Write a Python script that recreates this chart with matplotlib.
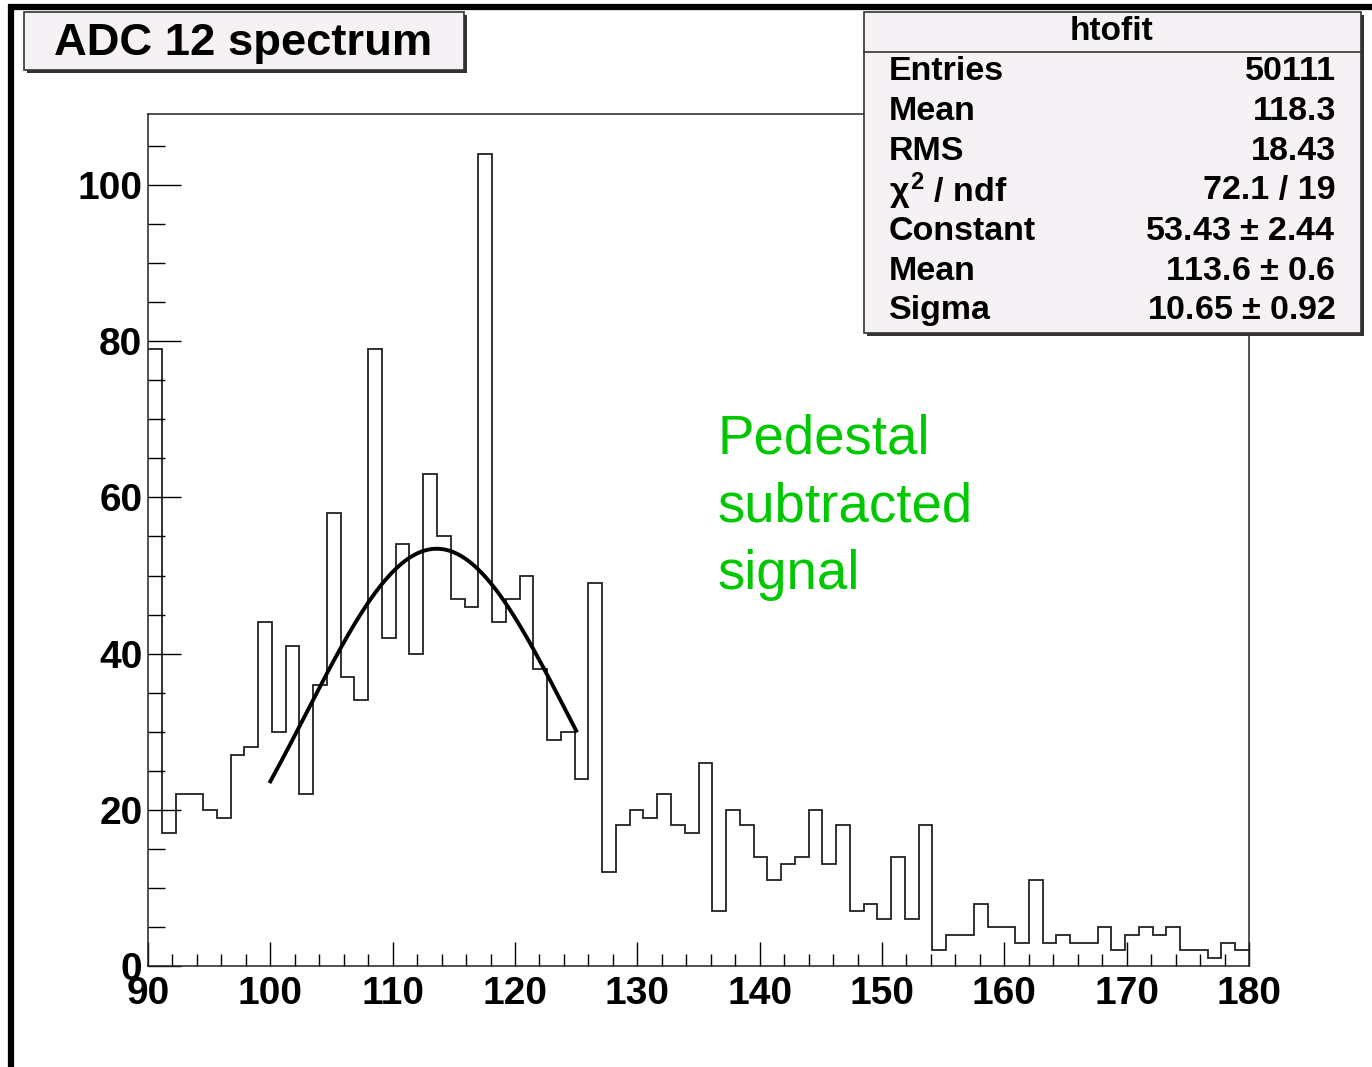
import numpy as np
import matplotlib.pyplot as plt
from matplotlib.patches import Rectangle
from matplotlib.lines import Line2D

# histogram contents, 80 bins from 90 to 180
x_min, x_max, n_bins = 90, 180, 80
counts = [79, 17, 22, 22, 20, 19, 27, 28, 44, 30,
          41, 22, 36, 58, 37, 34, 79, 42, 54, 40,
          63, 55, 47, 46, 104, 44, 47, 50, 38, 29,
          30, 24, 49, 12, 18, 20, 19, 22, 18, 17,
          26, 7, 20, 18, 14, 11, 13, 14, 20, 13,
          18, 7, 8, 6, 14, 6, 18, 2, 4, 4,
          8, 5, 5, 3, 11, 3, 4, 3, 3, 5,
          2, 4, 5, 4, 5, 2, 2, 1, 3, 2]

# gaussian fit parameters and fit range
fit_const, fit_mean, fit_sigma = 53.43, 113.6, 10.65
fit_lo, fit_hi = 100, 125

stat_labels = ['Entries', 'Mean', 'RMS', r'$\chi^{2}$ / ndf', 'Constant', 'Mean', 'Sigma']
stat_values = ['50111', '118.3', '18.43', '72.1 / 19',
               '53.43 $\\pm$ 2.44', '113.6 $\\pm$ 0.6', '10.65 $\\pm$ 0.92']

note_lines = ['Pedestal', 'subtracted', 'signal']

xticks = [90, 100, 110, 120, 130, 140, 150, 160, 170, 180]
yticks = [0, 20, 40, 60, 80, 100]

W, H = 1372, 1067
plt.rcParams['font.family'] = ['Liberation Sans', 'DejaVu Sans']
plt.rcParams['mathtext.fontset'] = 'custom'
plt.rcParams['mathtext.rm'] = 'Liberation Sans:bold'
plt.rcParams['mathtext.it'] = 'Liberation Sans:bold'
plt.rcParams['mathtext.bf'] = 'Liberation Sans:bold'

fig = plt.figure(figsize=(W / 100, H / 100), dpi=100)


def fx(px):
    return px / W


def fy(py):
    return 1 - py / H


ax = fig.add_axes([fx(148), fy(966), fx(1249) - fx(148), fy(114) - fy(966)])

edges = np.linspace(x_min, x_max, n_bins + 1)
ax.stairs(counts, edges, color='#222222', linewidth=1.3, baseline=None)

xf = np.linspace(fit_lo, fit_hi, 200)
yf = fit_const * np.exp(-0.5 * ((xf - fit_mean) / fit_sigma) ** 2)
ax.plot(xf, yf, color='black', linewidth=2.8)

ax.set_xlim(x_min, x_max)
ax.set_ylim(0, 109.1)
ax.set_xticks(xticks)
ax.set_xticks(np.arange(90, 181, 2), minor=True)
ax.set_yticks(yticks)
ax.set_yticks(np.arange(0, 106, 5), minor=True)
ax.tick_params(axis='x', which='major', direction='in', length=17, width=1, pad=7,
               labelsize=28)
ax.tick_params(axis='x', which='minor', direction='in', length=8.5, width=1)
ax.tick_params(axis='y', which='major', direction='in', length=24, width=1, pad=4,
               labelsize=28)
ax.tick_params(axis='y', which='minor', direction='in', length=12, width=1)
for lab in ax.get_xticklabels() + ax.get_yticklabels():
    lab.set_fontweight('bold')
for sp in ax.spines.values():
    sp.set_linewidth(1.1)
    sp.set_color('#222222')

for i, line in enumerate(note_lines):
    fig.text(fx(718), fy(453 + i * 68), line, color='#00c800', fontsize=39.3,
             ha='left', va='baseline')

box_fill = '#f5f1f4'

# title box with shadow
fig.patches.append(Rectangle((fx(27), fy(73)), fx(440), fy(12) - fy(70),
                             transform=fig.transFigure, facecolor='#333333',
                             edgecolor='none', zorder=5))
fig.patches.append(Rectangle((fx(24), fy(70)), fx(440), fy(12) - fy(70),
                             transform=fig.transFigure, facecolor=box_fill,
                             edgecolor='#333333', linewidth=1.2, zorder=6))
fig.text(fx(243), fy(43), 'ADC 12 spectrum', fontsize=32.7, fontweight='bold',
         ha='center', va='center', zorder=7)

# stats box with shadow
fig.patches.append(Rectangle((fx(867), fy(336)), fx(497), fy(12) - fy(333),
                             transform=fig.transFigure, facecolor='#333333',
                             edgecolor='none', zorder=5))
fig.patches.append(Rectangle((fx(864), fy(333)), fx(497), fy(12) - fy(333),
                             transform=fig.transFigure, facecolor=box_fill,
                             edgecolor='#333333', linewidth=1.2, zorder=6))
fig.lines.append(Line2D([fx(864), fx(1361)], [fy(52), fy(52)],
                        transform=fig.transFigure, color='#333333',
                        linewidth=1.2, zorder=7))
fig.text(fx(1111), fy(32), 'htofit', fontsize=24, fontweight='bold',
         ha='center', va='center', zorder=7)
for i, (lab, val) in enumerate(zip(stat_labels, stat_values)):
    y = fy(71 + i * 40)
    fig.text(fx(889), y, lab, fontsize=24.5, fontweight='bold',
             ha='left', va='center', zorder=7)
    fig.text(fx(1336), y, val, fontsize=24.5, fontweight='bold',
             ha='right', va='center', zorder=7)

# pad frame (top and left edges)
fig.lines.append(Line2D([fx(8), 1], [fy(6.5), fy(6.5)], transform=fig.transFigure,
                        color='black', linewidth=4.5, solid_capstyle='butt'))
fig.lines.append(Line2D([fx(11), fx(11)], [fy(5), 0], transform=fig.transFigure,
                        color='black', linewidth=4.5, solid_capstyle='butt'))

fig.savefig('out.png', dpi=100)
